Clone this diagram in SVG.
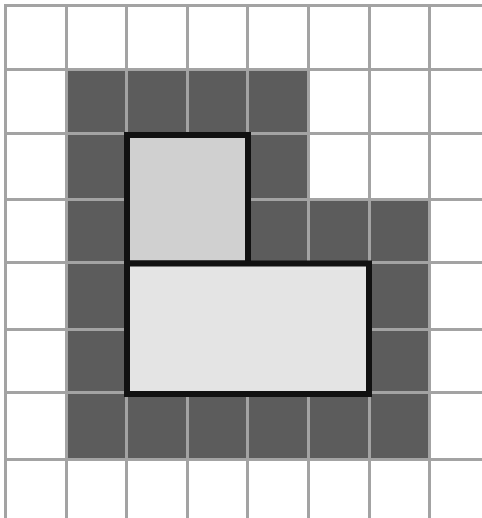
<svg xmlns="http://www.w3.org/2000/svg" width="482" height="518" viewBox="0 0 482 518">
<style>
.dark{fill:#5c5c5c}
.grid line{stroke:#a3a3a3;stroke-width:3}
.box{stroke:#111;stroke-width:6;stroke-linejoin:miter}
</style>
<rect width="482" height="518" fill="#fff"/>
<g id="dark-region">
<rect class="dark" x="66.5" y="69.5" width="242" height="130"/>
<rect class="dark" x="66.5" y="199.5" width="363" height="260"/>
</g>
<g id="grid" class="grid">
<line x1="5.5" y1="4" x2="5.5" y2="518"/>
<line x1="66.5" y1="4" x2="66.5" y2="518"/>
<line x1="126.5" y1="4" x2="126.5" y2="518"/>
<line x1="187.5" y1="4" x2="187.5" y2="518"/>
<line x1="247.5" y1="4" x2="247.5" y2="518"/>
<line x1="308.5" y1="4" x2="308.5" y2="518"/>
<line x1="369.5" y1="4" x2="369.5" y2="518"/>
<line x1="429.5" y1="4" x2="429.5" y2="518"/>
<line x1="4" y1="5.5" x2="482" y2="5.5"/>
<line x1="4" y1="69.5" x2="482" y2="69.5"/>
<line x1="4" y1="133.5" x2="482" y2="133.5"/>
<line x1="4" y1="199.5" x2="482" y2="199.5"/>
<line x1="4" y1="262.5" x2="482" y2="262.5"/>
<line x1="4" y1="329.5" x2="482" y2="329.5"/>
<line x1="4" y1="392.5" x2="482" y2="392.5"/>
<line x1="4" y1="459.5" x2="482" y2="459.5"/>
</g>
<g id="top-box">
<rect class="box" x="127" y="135" width="121" height="128.5" fill="#d0d0d0"/>
</g>
<g id="bottom-box">
<rect class="box" x="127" y="263.5" width="242" height="130.5" fill="#e4e4e4"/>
</g>
</svg>
